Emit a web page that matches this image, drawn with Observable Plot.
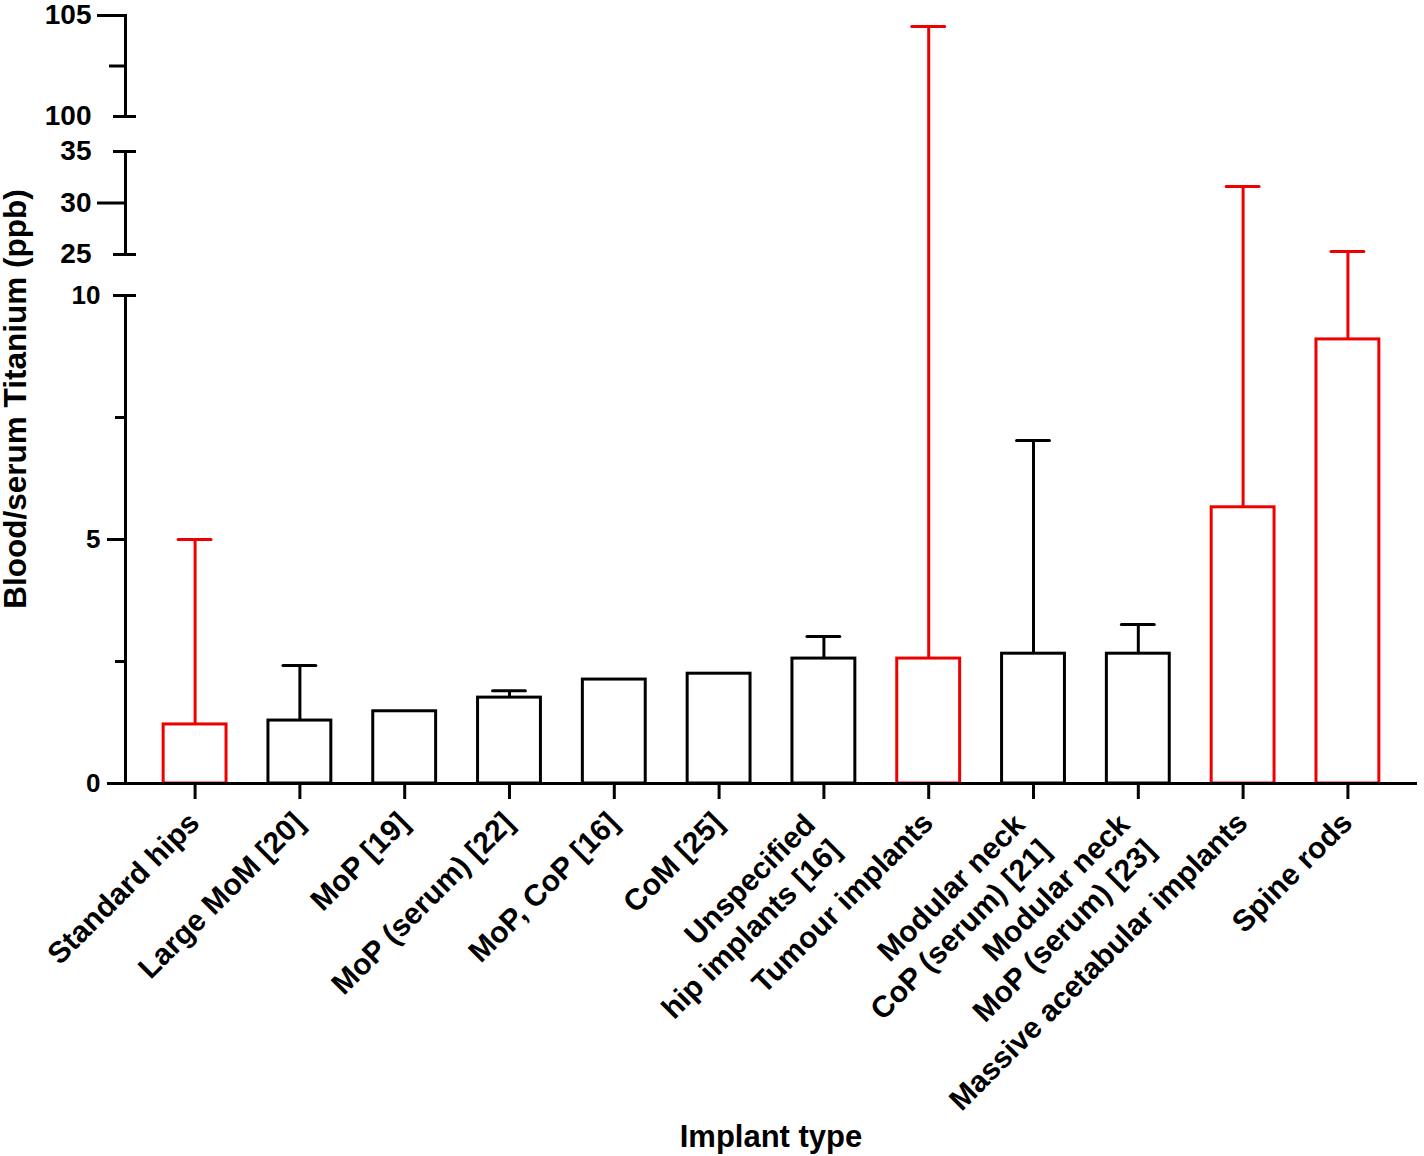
<!DOCTYPE html>
<html><head><meta charset="utf-8">
<script src="https://cdn.jsdelivr.net/npm/d3@7"></script>
<script src="https://cdn.jsdelivr.net/npm/@observablehq/plot@0.6"></script>
<style>
html,body{margin:0;padding:0;background:#fff;}
#chart{position:relative;width:1424px;height:1156px;font-family:'Liberation Sans',Arial,sans-serif;font-weight:bold;color:#000;}
#chart svg{position:absolute;left:0;}
.ytitle{position:absolute;left:16px;top:399px;transform:translate(-50%,-50%) rotate(-90deg);white-space:nowrap;font-size:31.5px;line-height:1;}
.xtitle{position:absolute;left:771px;top:1119px;transform:translateX(-50%);font-size:31px;white-space:nowrap;}
</style></head><body><div id="chart"></div>
<script>
// ---- data ----
const categories = ["Standard hips","Large MoM [20]","MoP [19]","MoP (serum) [22]","MoP, CoP [16]","CoM [25]","Unspecified\nhip implants [16]","Tumour implants","Modular neck\nCoP (serum) [21]","Modular neck\nMoP (serum) [23]","Massive acetabular implants","Spine rods"];
const means = [1.21,1.29,1.48,1.76,2.13,2.25,2.56,2.56,2.66,2.66,5.66,9.1];
const upperErrors = [5.0,2.42,null,1.9,null,null,3.01,104.46,7.03,3.26,31.6,25.3];
const highlighted = [true,false,false,false,false,false,false,true,false,false,true,true];
const topTicks = [100,105];
const topMinorTicks = [102.5];
const midTicks = [25,30,35];
const lowTicks = [0,5,10];
const lowMinorTicks = [2.5,7.5];
const yTitle = "Blood/serum Titanium (ppb)";
const xTitle = "Implant type";

const RED = "#ee0000", BLACK = "#000000";
const rows = categories.map((c,i)=>({category:c, mean:means[i], err:upperErrors[i], color: highlighted[i]?RED:BLACK}));
const withErr = rows.filter(d=>d.err!=null);
const singleLine = categories.filter(c=>!c.includes("\n"));
const multiLine = categories.filter(c=>c.includes("\n"));
const FONT = "'Liberation Sans', Arial, sans-serif";

function segment(cfg){
  const marks = [];
  if (cfg.bars) marks.push(Plot.barY(rows,{x:"category",y:"mean",fill:"white",stroke:"color",strokeWidth:3}));
  marks.push(Plot.ruleX(withErr,{x:"category",y1:"mean",y2:"err",stroke:"color",strokeWidth:3}));
  marks.push(Plot.tickY(withErr,{x:"category",y:"err",stroke:"color",strokeWidth:3,insetLeft:15,insetRight:15,strokeLinecap:"round"}));
  if (cfg.bars) marks.push(Plot.ruleY([0],{strokeWidth:3}));
  marks.push(Plot.frame({anchor:"left",strokeWidth:3}));
  marks.push(Plot.axisY({ticks:cfg.labels,tickSize:0,tickPadding:cfg.pad,tickFormat:d=>String(d),fontSize:cfg.fontSize,fontWeight:"bold",fontFamily:FONT,label:null}));
  marks.push(Plot.axisY({ticks:cfg.major,tickSize:cfg.majorSize,strokeWidth:3,fill:"none",label:null}));
  if (cfg.minor) marks.push(Plot.axisY({ticks:cfg.minor,tickSize:cfg.minorSize,strokeWidth:3,fill:"none",label:null}));
  marks.push(Plot.axisY({ticks:cfg.caps,tickSize:23,dx:11,strokeWidth:3,fill:"none",label:null}));
  if (cfg.bars) {
    const xText = {tickSize:0,tickRotate:-45,fontSize:30,fontWeight:"bold",fontFamily:FONT,lineAnchor:"top",lineHeight:1.2,label:null};
    marks.push(Plot.axisX({tickSize:16,strokeWidth:3,fill:"none",label:null}));
    marks.push(Plot.axisX({...xText,ticks:singleLine,tickPadding:23,dx:-12}));
    marks.push(Plot.axisX({...xText,ticks:multiLine,tickPadding:25,dx:-25}));
  }
  const svg = Plot.plot({
    width:1424, height:cfg.height,
    marginLeft:125, marginRight:7, marginTop:cfg.mt, marginBottom:cfg.height-cfg.mt-cfg.frameH,
    style:{overflow:"hidden",background:"transparent",fontFamily:FONT,fontWeight:"bold",color:"#000"},
    x:{domain:categories,paddingInner:0.4,paddingOuter:0.364,round:false,axis:cfg.bars?undefined:null},
    y:{domain:cfg.domain},
    color:{type:"identity"},
    marks
  });
  svg.style.top = cfg.top + "px";
  return svg;
}

const chart = document.getElementById("chart");
chart.appendChild(segment({domain:[100,105],top:0,height:134,mt:15,frameH:101,labels:topTicks,pad:34,fontSize:28,major:[105],majorSize:28,minor:topMinorTicks,minorSize:16,caps:[100]}));
chart.appendChild(segment({domain:[25,35],top:134,height:141,mt:17,frameH:103,labels:midTicks,pad:34,fontSize:28,major:[30],majorSize:28,caps:[25,35]}));
chart.appendChild(segment({domain:[0,10],top:275,height:881,mt:20,frameH:488,labels:lowTicks,pad:25,fontSize:26,major:[0,5],majorSize:18,minor:lowMinorTicks,minorSize:10,caps:[10],bars:true}));
const yt = document.createElement("div"); yt.className="ytitle"; yt.textContent=yTitle; chart.appendChild(yt);
const xt = document.createElement("div"); xt.className="xtitle"; xt.textContent=xTitle; chart.appendChild(xt);
</script></body></html>
